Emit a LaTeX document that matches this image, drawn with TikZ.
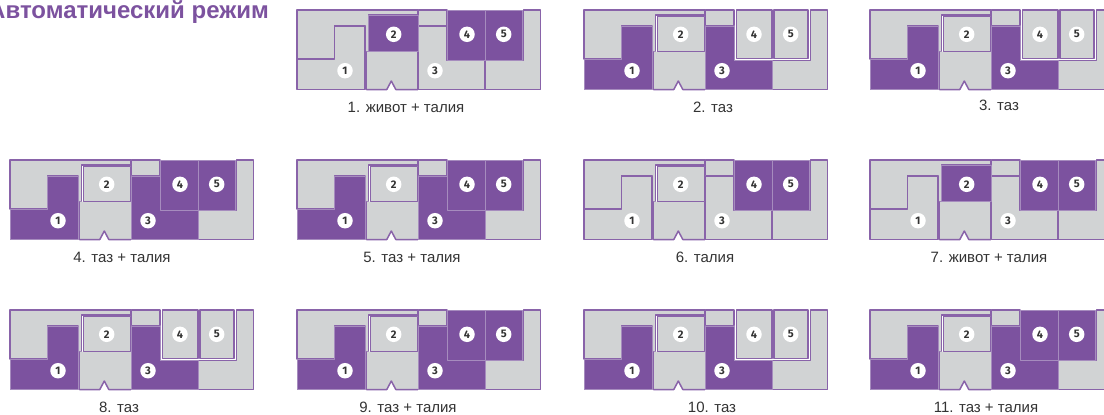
\documentclass[tikz,border=0pt]{standalone}
\usepackage{fontspec}
\setmainfont{Liberation Sans}
\newfontfamily\badgefont{Fira Sans}
\usepackage{xcolor}
\definecolor{Violet}{HTML}{7C529F}
\definecolor{VioletSoft}{HTML}{A68CBE}
\definecolor{Pad}{HTML}{D1D3D4}
\definecolor{Ink}{HTML}{333333}
\tikzset{
  cushion0/.style={fill=Violet,draw=VioletSoft,line width=0.6pt,line join=round},
  cushion1/.style={fill=Pad,draw=Violet!90!white,line width=1.5pt,line join=round},
  badge/.style={circle,fill=white,minimum size=15.5pt,inner sep=0pt,text=Ink,font=\badgefont\bfseries\fontsize{11}{12}\selectfont},
  capt/.style={font=\fontsize{15}{18}\selectfont,text=Ink,inner sep=0pt},
}
\begin{document}
\begin{tikzpicture}[x=1pt,y=-1pt]
\clip (0,0) rectangle (1104,415);
\node[anchor=base east,inner sep=0pt,text=Violet,font=\bfseries\fontsize{24}{28}\selectfont] (title) at (269,18) {Автоматический режим};
% sA: 1 and 3, sB: 2, sC: 4 and 5 (0 = purple, 1 = grey)
\foreach \px/\py/\lx/\ly/\sA/\sB/\sC/\txt [count=\i] in {
  297/10/406/107/1/0/0/{1. живот + талия},
  584/10/713/107/0/1/1/{2. таз},
  870/10/999/105/0/1/1/{3. таз},
  10/160/122/257/0/1/0/{4. таз + талия},
  297/160/412/257/0/1/0/{5. таз + талия},
  584/160/705/257/1/1/0/{6. талия},
  870/160/989/257/1/0/0/{7. живот + талия},
  10/310/119/407/0/1/1/{8. таз},
  297/310/408/407/0/1/0/{9. таз + талия},
  584/310/712/407/0/1/1/{10. таз},
  870/310/986/407/0/1/0/{11. таз + талия}} {
\begin{scope}[shift={(\px,\py)}]
\draw[cushion1] (0,0) -- (120.8,0) -- (120.8,5) -- (71.5,5) -- (71.5,41.7) -- (68,41.7) -- (68,16) -- (37.5,16) -- (37.5,49) -- (0,49) -- cycle;
\draw[cushion1] (121.6,0) -- (150,0) -- (150,15.6) -- (121.6,15.6) -- cycle;
\fill[Pad] (69.3,41.7) -- (120.8,41.7) -- (120.8,79.5) -- (98.8,79.5) -- (94.3,71) -- (89.8,79.5) -- (69.3,79.5) -- cycle;
\draw[cushion1,fill=none] (69.3,79.5) -- (89.8,79.5) -- (94.3,71) -- (98.8,79.5) -- (120.8,79.5);
\draw[Violet!90!white,line width=0.2pt+1.3pt*\sA] (69.3,41.7) -- (69.3,79.5) (120.8,41.7) -- (120.8,79.5);
\draw[cushion1] (188.6,50.7) -- (226.7,50.7) -- (226.7,0) -- (243.5,0) -- (243.5,79.5) -- (188.6,79.5) -- cycle;
\draw[cushion\sA] (0,49) -- (37.5,49) -- (37.5,16) -- (67.8,16) -- (67.8,79.5) -- (0,79.5) -- cycle;
\draw[cushion\sA] (121.6,16.7) -- (150,16.7) -- (150,50.7) -- (187.8,50.7) -- (187.8,79.5) -- (121.6,79.5) -- cycle;
\draw[cushion\sB] ({71.7+1.6*\sB},{5+1.6*\sB}) rectangle ({121-0.4*\sB},41.7);
\draw[cushion\sC] ({150.4+2.3*\sC},0) rectangle (187.8,{50.7-2*\sC});
\draw[cushion\sC] ({188.6+1.4*\sC},0) rectangle ({225.4-1.2*\sC},{50.7-2*\sC});
\node[badge] (one\i) at (48,60.7) {1};
\node[badge] (two\i) at (96.7,24.3) {2};
\node[badge] (three\i) at (138,60.7) {3};
\node[badge] (four\i) at (170,24.3) {4};
\node[badge] (five\i) at (206.7,24.3) {5};
\end{scope}
\node[capt] (label\i) at (\lx,\ly) {\txt};
}
\end{tikzpicture}
\end{document}
